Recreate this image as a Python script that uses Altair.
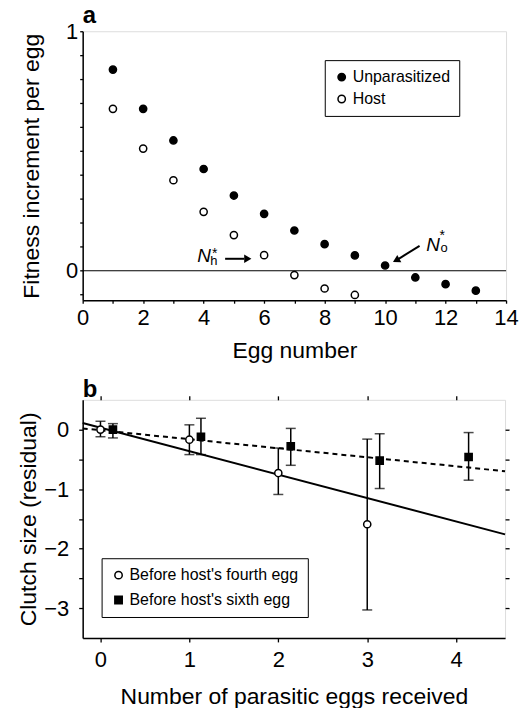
import altair as alt
import pandas as pd

FONT = "Liberation Sans"

# ---------------- Panel a data ----------------
egg_unpar = [1, 2, 3, 4, 5, 6, 7, 8, 9, 10, 11, 12, 13]
fit_unpar = [0.84, 0.676, 0.544, 0.425, 0.314, 0.2375, 0.168, 0.111, 0.064, 0.022, -0.028, -0.056, -0.083]
egg_host = [1, 2, 3, 4, 5, 6, 7, 8, 9]
fit_host = [0.676, 0.51, 0.378, 0.246, 0.149, 0.065, -0.018, -0.074, -0.101]
series_a = ["Unparasitized", "Host"]
a_xticks = list(range(0, 15))
a_yticks = [-0.1, 0.0, 0.1, 0.2, 0.3, 0.4, 0.5, 0.6, 0.7, 0.8, 0.9, 1.0]

# annotation texts (N_h*, N_o*)
ann_main_x = [3.79, 11.36]
ann_main_y = [0.035, 0.083]
ann_main_t = ["N", "N"]
ann_sub_x = [4.22, 11.83]
ann_sub_y = [0.026, 0.080]
ann_sub_t = ["h", "o"]
ann_star_x = [4.28, 11.80]
ann_star_y = [0.055, 0.128]
arrow_x = [4.71, 11.14]
arrow_y = [0.050, 0.104]
arrow_x2 = [5.34, 10.45]
arrow_y2 = [0.050, 0.050]
head_x = [5.42, 10.40]
head_y = [0.050, 0.046]
head_ang = [90, 241]

# ---------------- Panel b data ----------------
series_b = ["Before host's fourth egg", "Before host's sixth egg"]
circ_x = [0.0, 1.0, 2.0, 3.0]
circ_y = [0.0, -0.17, -0.73, -1.59]
circ_lo = [-0.12, -0.42, -1.09, -3.03]
circ_hi = [0.14, 0.08, -0.31, -0.16]
sq_x = [0.14, 1.13, 2.14, 3.14, 4.14]
sq_y = [0.0, -0.12, -0.28, -0.52, -0.46]
sq_lo = [-0.14, -0.42, -0.60, -0.99, -0.85]
sq_hi = [0.10, 0.19, 0.02, -0.07, -0.05]
solid_x = [-0.2, 4.55]
solid_y = [0.11, -1.76]
dash_x = [-0.2, 4.55]
dash_y = [0.02, -0.70]
b_xticks = [0, 1, 2, 3, 4]
b_yticks = [-3.0, -2.5, -2.0, -1.5, -1.0, -0.5, 0.0]


def ax(**kw):
    base = dict(grid=False, domainColor="black", domainWidth=1.5, tickColor="black",
                tickWidth=1.3, labelColor="black", titleColor="black", labelFont=FONT,
                titleFont=FONT, labelFontSize=22, titleFontSize=23,
                titleFontWeight="normal", labelFlush=False, labelOverlap=False)
    base.update(kw)
    return alt.Axis(**base)


# ---------------- Panel a ----------------
df_a = pd.DataFrame({
    "x": egg_unpar + egg_host,
    "y": fit_unpar + fit_host,
    "s": [series_a[0]] * len(egg_unpar) + [series_a[1]] * len(egg_host),
})
sx_a = alt.Scale(domain=[0, 14], nice=False, zero=False)
sy_a = alt.Scale(domain=[-0.123, 1.0], nice=False, zero=False)
xa = alt.X("x:Q", scale=sx_a, axis=ax(title="Egg number", values=a_xticks,
            labelExpr="datum.value % 2 == 0 ? datum.label : ''",
            tickSize=3, labelPadding=4, titlePadding=12))
ya = alt.Y("y:Q", scale=sy_a, axis=ax(title="Fitness increment per egg", values=a_yticks,
            labelExpr="datum.value == 0 ? '0' : (datum.value == 1 ? '1' : '')",
            tickSize=3, labelPadding=2, titlePadding=22))

zero_a = alt.Chart(pd.DataFrame({"y": [0.0]})).mark_rule(color="black", strokeWidth=1.2).encode(y=ya)

pts_a = alt.Chart(df_a).mark_point(shape="circle", filled=True, stroke="black",
                                   strokeWidth=1.5, size=52, opacity=1).encode(
    x=xa, y=ya,
    fill=alt.Fill("s:N", scale=alt.Scale(domain=series_a, range=["black", "white"]),
                  legend=alt.Legend(title=None, orient="none", legendX=243, legendY=29,
                                    strokeColor="black", fillColor="white", padding=9,
                                    labelFont=FONT, labelFontSize=16, labelColor="black",
                                    symbolType="circle", symbolSize=55,
                                    symbolStrokeColor="black", symbolStrokeWidth=1.5,
                                    rowPadding=6, labelOffset=3, labelLimit=300)),
)

ann1 = alt.Chart(pd.DataFrame({"x": ann_main_x, "y": ann_main_y, "t": ann_main_t})).mark_text(
    font=FONT, fontStyle="italic", fontSize=19, align="left", baseline="alphabetic",
    color="black").encode(x=xa, y=ya, text="t:N")
ann2 = alt.Chart(pd.DataFrame({"x": ann_sub_x, "y": ann_sub_y, "t": ann_sub_t})).mark_text(
    font=FONT, fontSize=13, align="left", baseline="alphabetic",
    color="black").encode(x=xa, y=ya, text="t:N")
ann3 = alt.Chart(pd.DataFrame({"x": ann_star_x, "y": ann_star_y, "t": ["*", "*"]})).mark_text(
    font=FONT, fontSize=14, align="left", baseline="alphabetic",
    color="black").encode(x=xa, y=ya, text="t:N")
arr = alt.Chart(pd.DataFrame({"x": arrow_x, "y": arrow_y, "x2": arrow_x2, "y2": arrow_y2})).mark_rule(
    color="black", strokeWidth=2).encode(x=xa, y=ya, x2="x2:Q", y2="y2:Q")
heads = alt.Chart(pd.DataFrame({"x": head_x, "y": head_y, "a": head_ang})).mark_point(
    shape="triangle", filled=True, color="black", size=70, opacity=1).encode(
    x=xa, y=ya, angle=alt.Angle("a:Q", scale=None))

panel_a = alt.layer(zero_a, pts_a, ann1, ann2, ann3, arr, heads).properties(
    width=425, height=270,
    title=alt.Title("a", anchor="start", frame="group", fontSize=24, fontWeight="bold",
                    font=FONT, color="black", offset=-8),
)

# ---------------- Panel b ----------------
df_b = pd.DataFrame({
    "x": circ_x + sq_x,
    "y": circ_y + sq_y,
    "lo": circ_lo + sq_lo,
    "hi": circ_hi + sq_hi,
    "s": [series_b[0]] * len(circ_x) + [series_b[1]] * len(sq_x),
})
df_lines = pd.DataFrame({
    "x": solid_x + dash_x,
    "y": solid_y + dash_y,
    "k": ["solid"] * 2 + ["dash"] * 2,
})
sx_b = alt.Scale(domain=[-0.2, 4.55], nice=False, zero=False)
sy_b = alt.Scale(domain=[-3.5, 0.5], nice=False, zero=False)
xb = alt.X("x:Q", scale=sx_b, axis=ax(title="Number of parasitic eggs received", values=b_xticks,
            tickSize=4, labelPadding=8, titlePadding=15))
yb = alt.Y("y:Q", scale=sy_b, axis=ax(title="Clutch size (residual)", values=b_yticks,
            labelExpr="datum.value % 1 == 0 ? (datum.value < 0 ? '\u2212' + abs(datum.value) : '0') : ''",
            tickSize=4, labelPadding=10, titlePadding=3))
xb_n = alt.X("x:Q", scale=sx_b, axis=None)
yb_n = alt.Y("y:Q", scale=sy_b, axis=None)

solid_b = alt.Chart(df_lines).transform_filter("datum.k == 'solid'").mark_line(
    color="black", strokeWidth=2).encode(x=xb_n, y=yb_n)
dash_b = alt.Chart(df_lines).transform_filter("datum.k == 'dash'").mark_line(
    color="black", strokeWidth=2, strokeDash=[5, 4]).encode(x=xb_n, y=yb_n)
err_b = alt.Chart(df_b).mark_rule(color="black", strokeWidth=1.5).encode(
    x=xb_n, y=alt.Y("lo:Q", scale=sy_b, axis=None), y2="hi:Q")
cap_lo = alt.Chart(df_b).mark_tick(color="black", orient="horizontal", size=10, thickness=1.5).encode(
    x=xb_n, y=alt.Y("lo:Q", scale=sy_b, axis=None))
cap_hi = alt.Chart(df_b).mark_tick(color="black", orient="horizontal", size=10, thickness=1.5).encode(
    x=xb_n, y=alt.Y("hi:Q", scale=sy_b, axis=None))

leg_b = dict(title=None, orient="none", legendX=19, legendY=159, strokeColor="black",
             fillColor="white", padding=9, labelFont=FONT, labelFontSize=16,
             labelColor="black", symbolSize=55, symbolStrokeColor="black",
             symbolStrokeWidth=1.5, rowPadding=9, labelOffset=3, labelLimit=300)
pts_b = alt.Chart(df_b).mark_point(filled=True, strokeWidth=1.5,
                                   size=52, opacity=1).encode(
    x=xb, y=yb,
    shape=alt.Shape("s:N", scale=alt.Scale(domain=series_b, range=["circle", "square"]),
                    legend=alt.Legend(**leg_b)),
    fill=alt.Fill("s:N", scale=alt.Scale(domain=series_b, range=["white", "black"]),
                  legend=alt.Legend(**leg_b)),
    stroke=alt.Stroke("s:N", scale=alt.Scale(domain=series_b, range=["black", "black"]),
                      legend=alt.Legend(**leg_b)),
)

mirror_b = alt.Chart(df_lines).mark_line(opacity=0).encode(
    x=alt.X("x:Q", scale=sx_b, axis=alt.Axis(orient="top", values=b_xticks, labels=False,
                                             title=None, grid=False, domain=False,
                                             tickColor="black", tickWidth=1.3, tickSize=4)),
    y=alt.Y("y:Q", scale=sy_b, axis=alt.Axis(orient="right", values=b_yticks, labels=False,
                                             title=None, grid=False, domain=False,
                                             tickColor="black", tickWidth=1.3, tickSize=4)),
    detail="k:N",
)

panel_b = alt.layer(solid_b, dash_b, err_b, cap_lo, cap_hi, pts_b, mirror_b).resolve_axis(
    x="independent", y="independent").properties(
    width=424, height=239,
    title=alt.Title("b", anchor="start", frame="group", fontSize=24, fontWeight="bold",
                    font=FONT, color="black", offset=-7),
)

chart = alt.vconcat(panel_a, panel_b, spacing=100, bounds="flush").resolve_scale(
    fill="independent", shape="independent", stroke="independent").properties(
    padding={"left": 17, "top": 2, "right": 2, "bottom": 2},
).configure_view(stroke="black", strokeWidth=1.5).configure(background="white")

chart.save("out.html", embed_options={"renderer": "svg", "actions": False})
